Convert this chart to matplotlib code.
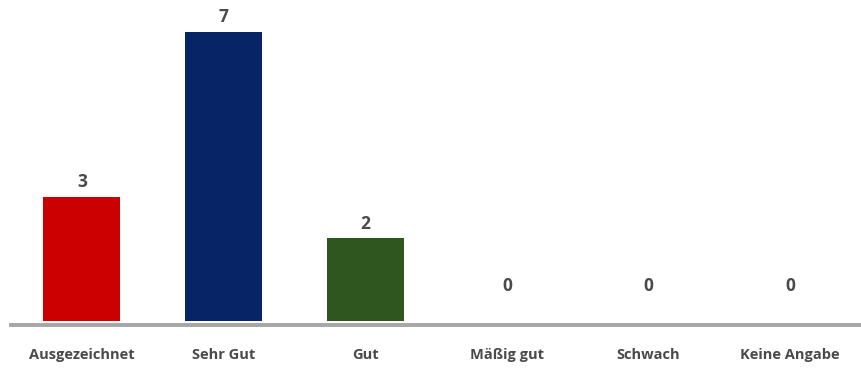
import matplotlib
matplotlib.use("Agg")
import matplotlib.pyplot as plt

categories = ["Ausgezeichnet", "Sehr Gut", "Gut", "Mäßig gut", "Schwach", "Keine Angabe"]
values = [3, 7, 2, 0, 0, 0]
colors = ["#cc0000", "#062466", "#2e561e", "#888888", "#888888", "#888888"]

plt.rcParams["font.family"] = ["Open Sans", "DejaVu Sans"]

fig = plt.figure(figsize=(8.62, 3.68), dpi=100)
ax = fig.add_axes([11 / 862, 47 / 368, 850 / 862, 321 / 368])

x = range(len(categories))
ax.bar(x, values, width=0.545, color=colors, zorder=3)

# value labels; empty categories get theirs floated a bit higher
for i, v in enumerate(values):
    off = 0.36 if v > 0 else 0.84
    ax.text(i, v + off, str(v), ha="center", va="center",
            fontsize=12.5, fontweight="bold", color="#4a4a4a")

# category labels under the baseline
for i, c in enumerate(categories):
    ax.text(i, -0.82, c, ha="center", va="center",
            fontsize=10.5, fontweight="bold", color="#4a4a4a", clip_on=False)

ax.axhline(-0.09, color="#a6a6a6", lw=2.8, zorder=2, clip_on=False)

ax.set_xlim(-0.5, 5.5)
ax.set_ylim(0, 7.78)
ax.axis("off")

fig.savefig("out.png", dpi=100)
